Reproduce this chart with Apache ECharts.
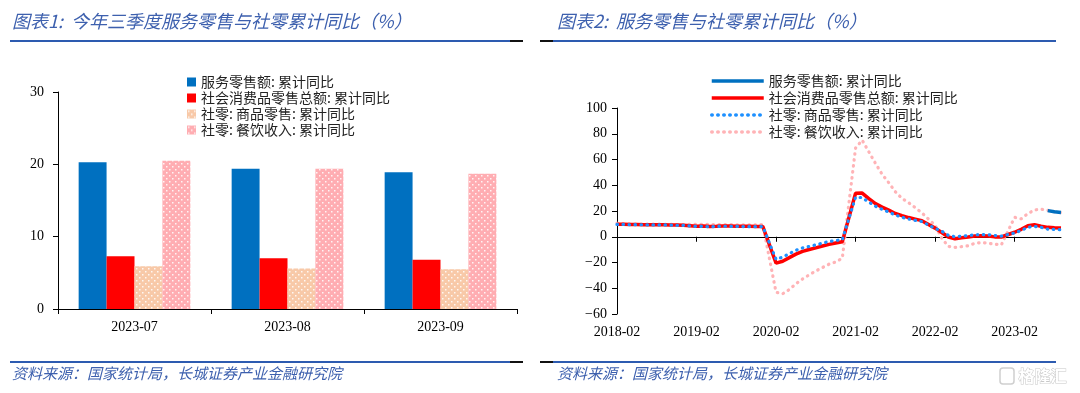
<!DOCTYPE html>
<html><head><meta charset="utf-8">
<script src="https://cdn.jsdelivr.net/npm/echarts@6/dist/echarts.min.js"></script>
<style>html,body{margin:0;padding:0;background:#fff}#c{width:1080px;height:393px}</style>
</head><body><div id="c"></div>
<script>
// ---- Chart 1 data ----
const barCategories = ['2023-07', '2023-08', '2023-09'];
const barServices = [20.3, 19.4, 18.9];
const barTotal = [7.3, 7.0, 6.8];
const barGoods = [5.9, 5.6, 5.5];
const barCatering = [20.5, 19.4, 18.7];
const barYTicks = [0, 10, 20, 30];

// ---- Chart 2 data (monthly, Jan not published -> null) ----
const lineMonths = [
 '2018-02','2018-03','2018-04','2018-05','2018-06','2018-07','2018-08','2018-09','2018-10','2018-11','2018-12',
 '2019-01','2019-02','2019-03','2019-04','2019-05','2019-06','2019-07','2019-08','2019-09','2019-10','2019-11','2019-12',
 '2020-01','2020-02','2020-03','2020-04','2020-05','2020-06','2020-07','2020-08','2020-09','2020-10','2020-11','2020-12',
 '2021-01','2021-02','2021-03','2021-04','2021-05','2021-06','2021-07','2021-08','2021-09','2021-10','2021-11','2021-12',
 '2022-01','2022-02','2022-03','2022-04','2022-05','2022-06','2022-07','2022-08','2022-09','2022-10','2022-11','2022-12',
 '2023-01','2023-02','2023-03','2023-04','2023-05','2023-06','2023-07','2023-08','2023-09'];
const lineServices = [
 null,null,null,null,null,null,null,null,null,null,null,
 null,null,null,null,null,null,null,null,null,null,null,null,
 null,null,null,null,null,null,null,null,null,null,null,null,
 null,null,null,null,null,null,null,null,null,null,null,null,
 null,null,null,null,null,null,null,null,null,null,null,null,
 null,null,null,null,null,null,20.3,19.4,18.9];
const lineTotal = [
 9.7,9.8,9.5,9.5,9.4,9.3,9.3,9.3,9.2,9.1,9.0,
 null,8.2,8.3,8.0,8.1,8.4,8.3,8.2,8.2,8.1,8.0,8.0,
 null,-20.5,-19.0,-16.2,-13.5,-11.4,-9.9,-8.6,-7.2,-5.9,-4.8,-3.9,
 null,33.8,33.9,29.6,25.7,23.0,20.7,18.1,16.4,14.9,13.7,12.5,
 null,6.7,3.3,-0.2,-1.5,-0.7,-0.2,0.5,0.7,0.6,-0.1,-0.2,
 null,3.5,5.8,8.5,9.3,8.2,7.3,7.0,6.8];
const lineGoods = [
 9.6,9.6,9.3,9.4,9.3,9.2,9.2,9.2,9.1,8.9,8.8,
 null,8.0,8.1,7.8,7.9,8.2,8.1,8.0,7.9,7.8,7.8,7.9,
 null,-17.6,-15.8,-13.1,-10.5,-8.7,-7.5,-6.3,-5.0,-3.7,-2.9,-2.3,
 null,30.7,30.4,26.9,23.7,21.3,19.2,16.9,15.1,13.8,12.7,11.8,
 null,6.5,4.3,1.1,0.0,0.5,0.9,1.5,1.7,1.6,1.0,0.5,
 null,2.9,4.9,7.4,8.0,7.3,5.9,5.7,5.5];
const lineCatering = [
 10.5,10.1,10.0,9.8,9.9,9.9,9.8,9.7,9.6,9.5,9.5,
 null,9.7,9.6,9.5,9.5,9.4,9.4,9.3,9.3,9.3,9.3,9.4,
 null,-43.1,-44.3,-41.0,-36.5,-32.8,-29.6,-26.6,-23.9,-21.3,-19.6,-16.6,
 null,68.9,75.0,66.0,57.0,48.6,42.0,35.0,29.8,26.5,22.6,18.6,
 null,8.9,-1.0,-7.5,-8.3,-7.7,-7.0,-5.1,-4.6,-5.0,-5.8,-6.3,
 null,15.1,13.9,18.0,20.8,21.4,20.5,19.4,18.7];
const lineYTicks = [-60, -40, -20, 0, 20, 40, 60, 80, 100];

const names = ['服务零售额: 累计同比', '社会消费品零售总额: 累计同比', '社零: 商品零售: 累计同比', '社零: 餐饮收入: 累计同比'];
const names2 = names.map(n => n + '\u200b');

function dotPattern(base) {
  const c = document.createElement('canvas');
  c.width = 6; c.height = 6;
  const g = c.getContext('2d');
  g.fillStyle = base; g.fillRect(0, 0, 6, 6);
  g.fillStyle = 'rgba(255,255,255,0.85)';
  g.fillRect(1, 1, 1.5, 1.5);
  g.fillRect(4, 4, 1.5, 1.5);
  return { image: c, repeat: 'repeat' };
}

const serif = '"Liberation Serif", "Times New Roman", serif';
const cjk = '"Noto Sans CJK SC", "Liberation Serif", sans-serif';
const titleColor = '#3D60AE';

const chart = echarts.init(document.getElementById('c'), null, { renderer: 'canvas' });
const option = {
  animation: false,
  backgroundColor: '#fff',
  grid: [
    { left: 58, top: 92, width: 459, height: 217 },
    { left: 617, top: 108, width: 444, height: 206 }
  ],
  legend: [
    { data: names, orient: 'vertical', left: 182, top: 70, itemWidth: 9, itemHeight: 9, itemGap: 2, icon: 'rect',
      textStyle: { fontSize: 14, color: '#222', fontFamily: cjk }, selectedMode: false },
    { data: names2, orient: 'vertical', left: 705, top: 69, itemWidth: 52, itemHeight: 10, itemGap: 3,
      itemStyle: { opacity: 0 }, lineStyle: { width: 3.5 },
      textStyle: { fontSize: 14, color: '#222', fontFamily: cjk }, selectedMode: false }
  ],
  xAxis: [
    { type: 'category', gridIndex: 0, data: barCategories,
      axisLine: { lineStyle: { color: '#000', width: 1 } },
      axisTick: { show: true, length: 5, lineStyle: { color: '#000' } },
      axisLabel: { fontFamily: serif, fontSize: 14, color: '#000', margin: 11 } },
    { type: 'category', gridIndex: 1, data: lineMonths, boundaryGap: false,
      axisLine: { onZero: true, lineStyle: { color: '#000', width: 1 } },
      axisTick: { show: true, length: 5, interval: (i) => i % 12 === 0, lineStyle: { color: '#000' } },
      axisLabel: { show: false } },
    { type: 'category', gridIndex: 1, data: lineMonths, boundaryGap: false, position: 'bottom',
      axisLine: { show: false, onZero: false },
      axisTick: { show: false },
      axisLabel: { interval: (i) => i % 12 === 0, fontFamily: serif, fontSize: 14, color: '#000', margin: 11 } }
  ],
  yAxis: [
    { type: 'value', gridIndex: 0, min: barYTicks[0], max: barYTicks[barYTicks.length - 1], interval: 10,
      axisLine: { show: true, lineStyle: { color: '#000' } },
      axisTick: { show: true, length: 5, lineStyle: { color: '#000' } },
      splitLine: { show: false },
      axisLabel: { fontFamily: serif, fontSize: 14, color: '#000', margin: 14 } },
    { type: 'value', gridIndex: 1, min: lineYTicks[0], max: lineYTicks[lineYTicks.length - 1], interval: 20,
      axisLine: { show: true, lineStyle: { color: '#000' } },
      axisTick: { show: true, length: 5, lineStyle: { color: '#000' } },
      splitLine: { show: false },
      axisLabel: { fontFamily: serif, fontSize: 14, color: '#000', margin: 10,
        formatter: (v) => String(v).replace('-', '\u2212') } }
  ],
  series: [
    { name: names[0], type: 'bar', xAxisIndex: 0, yAxisIndex: 0, data: barServices,
      itemStyle: { color: '#0070C0' }, barGap: '0%', barCategoryGap: '27%' },
    { name: names[1], type: 'bar', xAxisIndex: 0, yAxisIndex: 0, data: barTotal,
      itemStyle: { color: '#FF0000' }, barGap: '0%', barCategoryGap: '27%' },
    { name: names[2], type: 'bar', xAxisIndex: 0, yAxisIndex: 0, data: barGoods,
      itemStyle: { color: dotPattern('#F8C9A8') }, barGap: '0%', barCategoryGap: '27%' },
    { name: names[3], type: 'bar', xAxisIndex: 0, yAxisIndex: 0, data: barCatering,
      itemStyle: { color: dotPattern('#FFADB2') }, barGap: '0%', barCategoryGap: '27%' },

    { name: names2[0], type: 'line', xAxisIndex: 1, yAxisIndex: 1, data: lineServices,
      symbol: 'none', connectNulls: false, z: 5, itemStyle: { color: '#0070C0' },
      lineStyle: { color: '#0070C0', width: 3.5 } },
    { name: names2[1], type: 'line', xAxisIndex: 1, yAxisIndex: 1, data: lineTotal,
      symbol: 'none', connectNulls: true, z: 3, itemStyle: { color: '#FF0000' },
      lineStyle: { color: '#FF0000', width: 3.5 } },
    { name: names2[2], type: 'line', xAxisIndex: 1, yAxisIndex: 1, data: lineGoods,
      symbol: 'none', connectNulls: true, z: 4, itemStyle: { color: '#1E90FF' },
      lineStyle: { color: '#1E90FF', width: 3.2, type: [0.5, 5.5], cap: 'round' } },
    { name: names2[3], type: 'line', xAxisIndex: 1, yAxisIndex: 1, data: lineCatering,
      symbol: 'none', connectNulls: true, z: 2, itemStyle: { color: '#FFB3B6' },
      lineStyle: { color: '#FFB3B6', width: 3.2, type: [0.5, 5.5], cap: 'round' } }
  ],
  graphic: [
    { type: 'text', left: 12, top: 12, style: { text: '图表1:  今年三季度服务零售与社零累计同比（%）', font: 'italic 18px "Noto Sans CJK SC"', fill: titleColor } },
    { type: 'text', left: 557, top: 12, style: { text: '图表2:  服务零售与社零累计同比（%）', font: 'italic 18px "Noto Sans CJK SC"', fill: titleColor } },
    { type: 'rect', shape: { x: 10, y: 40, width: 500, height: 2 }, style: { fill: '#2D5BB0' } },
    { type: 'rect', shape: { x: 510, y: 40, width: 13, height: 2 }, style: { fill: '#111' } },
    { type: 'rect', shape: { x: 540, y: 40, width: 13, height: 2 }, style: { fill: '#111' } },
    { type: 'rect', shape: { x: 553, y: 40, width: 503, height: 2 }, style: { fill: '#2D5BB0' } },
    { type: 'rect', shape: { x: 10, y: 361, width: 500, height: 2 }, style: { fill: '#2D5BB0' } },
    { type: 'rect', shape: { x: 510, y: 361, width: 13, height: 2 }, style: { fill: '#111' } },
    { type: 'rect', shape: { x: 540, y: 361, width: 13, height: 2 }, style: { fill: '#111' } },
    { type: 'rect', shape: { x: 553, y: 361, width: 503, height: 2 }, style: { fill: '#2D5BB0' } },
    { type: 'text', left: 12, top: 366, style: { text: '资料来源：国家统计局，长城证券产业金融研究院', font: 'italic 15px "Noto Sans CJK SC"', fill: titleColor } },
    { type: 'text', left: 557, top: 366, style: { text: '资料来源：国家统计局，长城证券产业金融研究院', font: 'italic 15px "Noto Sans CJK SC"', fill: titleColor } },
    { type: 'rect', shape: { x: 1000, y: 368, width: 14, height: 16, r: 3 }, style: { fill: 'none', stroke: '#cfcfcf', lineWidth: 1.5 } },
    { type: 'text', left: 1018, top: 367, style: { text: '格隆汇', font: 'bold 16px "Noto Sans CJK SC"', fill: '#fff', stroke: '#c8c8c8', lineWidth: 1 } }
  ]
};
chart.setOption(option);
</script></body></html>
